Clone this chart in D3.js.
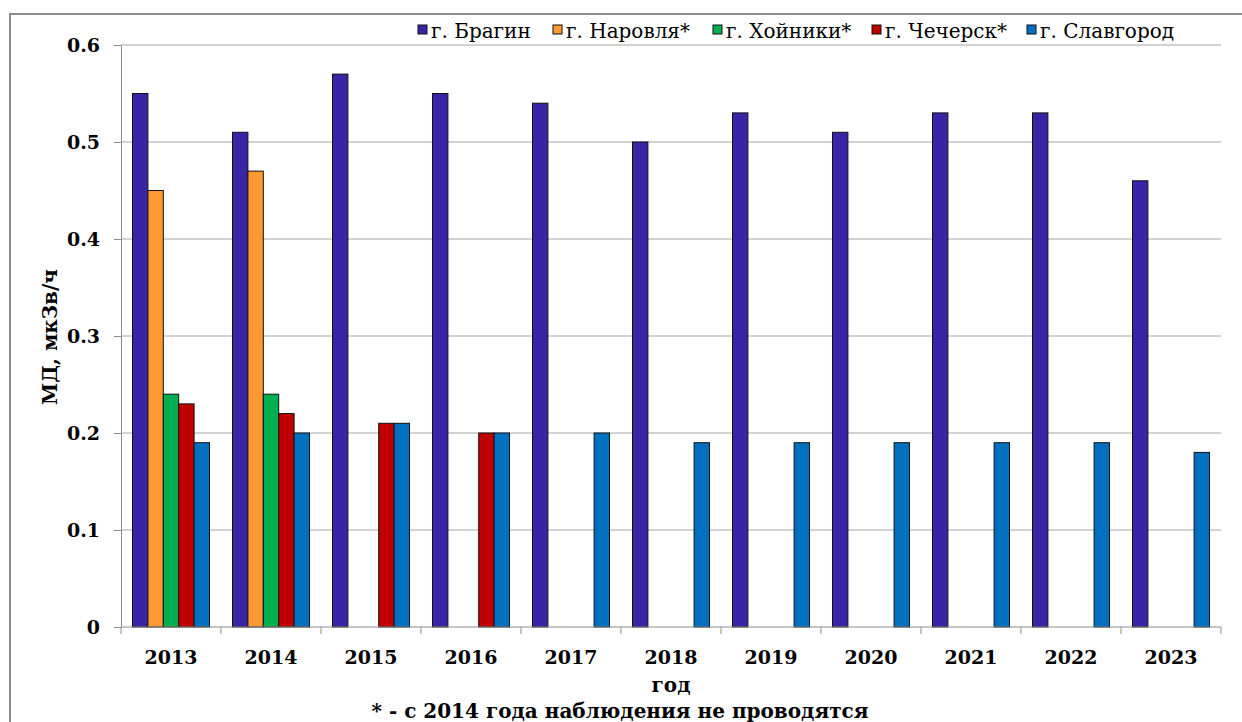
<!DOCTYPE html>
<html>
<head>
<meta charset="utf-8">
<script src="https://cdn.jsdelivr.net/npm/d3@7"></script>
<style>
  body { margin: 0; background: #fff; }
  svg text { font-family: "DejaVu Serif", "Liberation Serif", serif; }
</style>
</head>
<body>
<script>
var years = ["2013", "2014", "2015", "2016", "2017", "2018", "2019", "2020", "2021", "2022", "2023"];
var cities = ["г. Брагин", "г. Наровля*", "г. Хойники*", "г. Чечерск*", "г. Славгород"];
var bragin    = [0.55, 0.51, 0.57, 0.55, 0.54, 0.50, 0.53, 0.51, 0.53, 0.53, 0.46];
var narovlya  = [0.45, 0.47, null, null, null, null, null, null, null, null, null];
var hoiniki   = [0.24, 0.24, null, null, null, null, null, null, null, null, null];
var chechersk = [0.23, 0.22, 0.21, 0.20, null, null, null, null, null, null, null];
var slavgorod = [0.19, 0.20, 0.21, 0.20, 0.20, 0.19, 0.19, 0.19, 0.19, 0.19, 0.18];
var yTicks = [0, 0.1, 0.2, 0.3, 0.4, 0.5, 0.6];
var colors = ["#3923a6", "#ff9933", "#00b050", "#c00000", "#0070c0"];

var seriesValues = [bragin, narovlya, hoiniki, chechersk, slavgorod];

var svg = d3.select("body")
    .append("svg")
    .attr("width", 1242)
    .attr("height", 722);

// outer frame (only top and left visible)
svg.append("path")
    .attr("d", "M10,722 V14 H1242")
    .attr("fill", "none")
    .attr("stroke", "#8c8c8c")
    .attr("stroke-width", 2);

var x = d3.scaleBand()
    .domain(years)
    .range([121, 1221])
    .padding(0);

var xInner = d3.scaleBand()
    .domain(d3.range(cities.length))
    .range([11.5, x.bandwidth() - 11.5]);

var y = d3.scaleLinear()
    .domain([0, 0.6])
    .range([627, 45]);

// gridlines
svg.append("g")
    .selectAll("line")
    .data(yTicks.filter(function (d) { return d > 0; }))
    .enter()
        .append("line")
        .attr("x1", 121)
        .attr("x2", 1221)
        .attr("y1", function (d) { return y(d); })
        .attr("y2", function (d) { return y(d); })
        .attr("stroke", "#a6a6a6")
        .attr("stroke-width", 1);

// y axis
var yAxis = d3.axisLeft(y)
    .tickValues(yTicks)
    .tickSize(7)
    .tickPadding(14)
    .tickFormat(function (d) { return d === 0 ? "0" : d3.format(".1f")(d); });

var gy = svg.append("g")
    .attr("transform", "translate(121,0)")
    .call(yAxis);
gy.select(".domain").attr("stroke", "#8c8c8c");
gy.selectAll(".tick line").attr("stroke", "#8c8c8c");
gy.selectAll(".tick text")
    .attr("fill", "#000")
    .style("font-size", "19px")
    .style("font-weight", "bold");

// bars
var barData = [];
years.forEach(function (yr, i) {
    seriesValues.forEach(function (vals, s) {
        if (vals[i] !== null) barData.push({year: yr, s: s, v: vals[i]});
    });
});

svg.append("g")
    .selectAll("rect")
    .data(barData)
    .enter()
        .append("rect")
        .attr("x", function (d) { return x(d.year) + xInner(d.s); })
        .attr("y", function (d) { return y(d.v); })
        .attr("width", xInner.bandwidth())
        .attr("height", function (d) { return y(0) - y(d.v); })
        .attr("fill", function (d) { return colors[d.s]; })
        .attr("stroke", "#111")
        .attr("stroke-width", 1);

// x axis
var xAxisLine = svg.append("g");
xAxisLine.append("line")
    .attr("x1", 121).attr("x2", 1221)
    .attr("y1", 627).attr("y2", 627)
    .attr("stroke", "#8c8c8c");
xAxisLine.selectAll("line.tk")
    .data(years.concat(["end"]))
    .enter()
        .append("line")
        .attr("class", "tk")
        .attr("x1", function (d, i) { return 121 + i * x.step(); })
        .attr("x2", function (d, i) { return 121 + i * x.step(); })
        .attr("y1", 627)
        .attr("y2", 634)
        .attr("stroke", "#8c8c8c");

svg.append("g")
    .selectAll("text")
    .data(years)
    .enter()
        .append("text")
        .attr("x", function (d) { return x(d) + x.bandwidth() / 2; })
        .attr("y", 664)
        .attr("text-anchor", "middle")
        .style("font-weight", "bold")
        .style("font-size", "19px")
        .text(function (d) { return d; });

// axis titles
svg.append("text")
    .attr("transform", "translate(57,337) rotate(-90)")
    .attr("text-anchor", "middle")
    .style("font-weight", "bold")
    .style("font-size", "20px")
    .text("МД, мкЗв/ч");

svg.append("text")
    .attr("x", 671)
    .attr("y", 692)
    .attr("text-anchor", "middle")
    .style("font-weight", "bold")
    .style("font-size", "20px")
    .text("год");

svg.append("text")
    .attr("x", 620)
    .attr("y", 718)
    .attr("text-anchor", "middle")
    .style("font-weight", "bold")
    .style("font-size", "20px")
    .text("* - с 2014 года наблюдения не проводятся");

// legend
var legendX = [418, 553, 713, 872, 1027];
var legend = svg.append("g");
cities.forEach(function (name, i) {
    legend.append("rect")
        .attr("x", legendX[i])
        .attr("y", 25)
        .attr("width", 9)
        .attr("height", 9)
        .attr("fill", colors[i])
        .attr("stroke", "#111")
        .attr("stroke-width", 1);
    legend.append("text")
        .attr("x", legendX[i] + 13)
        .attr("y", 38)
        .style("font-size", "20px")
        .text(name);
});
</script>
</body>
</html>
